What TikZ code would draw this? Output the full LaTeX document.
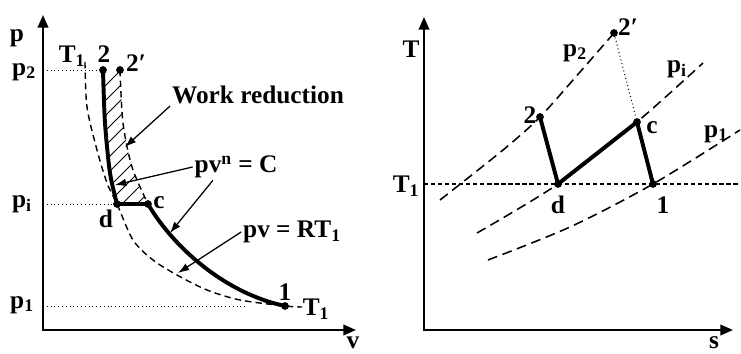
\documentclass[tikz,border=0pt]{standalone}
\usepackage{fontspec}
\setmainfont{Liberation Serif}
\usetikzlibrary{arrows.meta}
\tikzset{
  every picture/.style={font=\fontsize{18}{20}\selectfont\bfseries, line width=0.9pt},
  axisline/.style={{Triangle[length=9pt,width=7.5pt]}-{Triangle[length=9pt,width=7.5pt]}, line width=1.5pt},
  proc/.style={line width=2.8pt, line join=round, line cap=round},
  dot/.style={circle, fill, inner sep=0pt, minimum size=5.5pt},
  isoA/.style={dash pattern=on 4.5pt off 3pt, line width=1pt},
  isoB/.style={dash pattern=on 7pt off 4pt, line width=1.1pt},
  isoT/.style={dash pattern=on 3pt off 2pt, line width=0.9pt},
  guide/.style={dotted, line width=0.7pt},
  hatch/.style={line width=0.6pt},
  pointer/.style={-{Latex[length=8pt,width=5.5pt]}, line width=0.9pt},
}

\begin{document}
\begin{tikzpicture}[x=0.025cm, y=0.025cm, every node/.style={inner sep=1pt}]
  \useasboundingbox (0,0) rectangle (741,354);
  % p-v diagram
  \coordinate (Ov) at (43,24);
  \draw[axisline] (43,339) -- (Ov) -- (356,24);
  \node (pvp) at (17,316) {p};
  \node (pvv) at (353,11) {v};
  \node[dot] (A2)  at (103,284) {};
  \node[dot] (A2p) at (120,284) {};
  \node[dot] (Ad)  at (117,150) {};
  \node[dot] (Ac)  at (148,150) {};
  \node[dot] (A1)  at (285,48) {};
  \coordinate (Ap1) at (245,48);
  \node (lp2) at (24,282) {p\textsubscript{2}};
  \node (lpi) at (22,150) {p\textsubscript{i}};
  \node (lp1) at (22,49) {p\textsubscript{1}};
  \draw[guide] (A2 -| Ov) -- (A2);
  \draw[guide] (Ad -| Ov) -- (Ad);
  \draw[guide] (Ap1 -| Ov) -- (Ap1);
  % hatched area between 2-d and 2'-c
  \begin{scope}
    \clip plot[smooth] coordinates {(A2.center) (105,231) (110,181) (Ad.center)} -- plot[smooth] coordinates {(Ac.center) (132,187) (123,231) (A2p.center)} -- cycle;
    \foreach \k in {0,...,13} \draw[hatch] (90,88+15*\k) -- ++(80,80);
  \end{scope}
  \draw[isoA] plot[smooth] coordinates {(85,292) (87,247) (97,204) (107,171) (Ad.center) (133,114) (153,94) (177,79) (207,64) (240,54) (A1.center) (302,47)};
  \draw[isoA] plot[smooth] coordinates {(A2p.center) (123,231) (132,187) (Ac.center)};
  \draw[proc] plot[smooth] coordinates {(A2.center) (105,231) (110,181) (Ad.center)} -- (Ac.center) .. controls (170,112) and (220,62) .. (A1.center);
  \node (lT1a) at (72,298) {T\textsubscript{1}};
  \node (l2a) at (104,300) {2};
  \node (l2pa) at (136,291) {2′};
  \node (lda) at (106,135) {d};
  \node (lca) at (159,151) {c};
  \node (l1a) at (285,62) {1};
  \node (lT1b) at (316,45) {T\textsubscript{1}};
  \node (lw) at (258,259) {Work reduction};
  \node (lpvn) at (236,187) {pv\textsuperscript{n} = C};
  \node (lpv) at (292,122) {pv = RT\textsubscript{1}};
  \coordinate (tipw) at (125,207);
  \coordinate (tipn) at (115,169);
  \coordinate (tipc) at (170,121);
  \coordinate (tipT) at (178,81);
  \draw[pointer] (lw.south west) -- (tipw);
  \draw[pointer] (lpvn.west) -- (tipn);
  \draw[pointer] (lpvn.210) -- (tipc);
  \draw[pointer] (lpv.west) -- (tipT);

  % T-s diagram
  \coordinate (Os) at (424,24);
  \draw[axisline] (424,337) -- (Os) -- (733,24);
  \node (tsT) at (411,305) {T};
  \node (tss) at (714,11) {s};
  \node[dot] (B2)  at (540,237) {};
  \node[dot] (B2p) at (614,321) {};
  \node[dot] (Bd)  at (558,170) {};
  \node[dot] (Bc)  at (637,232) {};
  \node[dot] (B1)  at (653,170) {};
  \coordinate (BT1) at (738,170);
  \node (lT1c) at (406,168) {T\textsubscript{1}};
  \draw[isoT] (Bd -| Os) -- (BT1);
  \draw[isoB] plot[smooth] coordinates {(440,154) (503,204) (B2.center) (580,282) (B2p.center)};
  \draw[isoB] plot[smooth] coordinates {(477,121) (Bd.center) (Bc.center) (703,291)};
  \draw[isoB] plot[smooth] coordinates {(488,94) (570,127) (B1.center) (740,224)};
  \draw[guide] (B2p) -- (Bc);
  \draw[proc] (B2.center) -- (Bd.center) -- (Bc.center) -- (B1.center);
  \node (lp2b) at (575,301) {p\textsubscript{2}};
  \node (lpib) at (677,285) {p\textsubscript{i}};
  \node (lp1b) at (716,220) {p\textsubscript{1}};
  \node (l2b) at (530,239) {2};
  \node (l2pb) at (628,327) {2′};
  \node (lcb) at (652,226) {c};
  \node (ldb) at (558,149) {d};
  \node (l1b) at (663,149) {1};
\end{tikzpicture}
\end{document}
